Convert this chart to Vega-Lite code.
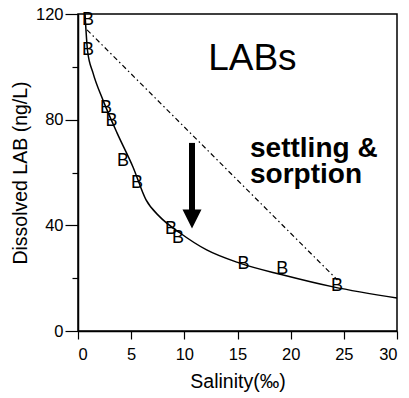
{
  "$schema": "https://vega.github.io/schema/vega-lite/v6.json",
  "width": 319,
  "height": 317,
  "autosize": "none",
  "padding": {"left": 78, "top": 14, "right": 12, "bottom": 67},
  "config": {
    "font": "Liberation Sans",
    "view": {"stroke": "black", "strokeWidth": 1.5},
    "axis": {"grid": false, "domainColor": "black", "domainWidth": 1.5, "tickColor": "black", "tickWidth": 1.2, "labelColor": "black", "titleColor": "black", "labelFont": "Liberation Sans", "titleFont": "Liberation Sans", "labelFontSize": 16.5, "titleFontSize": 19.5, "titleFontWeight": "normal"}
  },
  "datasets": {
    "samples": [
      {"salinity": 0.94, "lab": 117.7},
      {"salinity": 0.94, "lab": 106.4},
      {"salinity": 2.63, "lab": 84.4},
      {"salinity": 3.15, "lab": 79.5},
      {"salinity": 4.23, "lab": 64.4},
      {"salinity": 5.55, "lab": 56.0},
      {"salinity": 8.75, "lab": 38.6},
      {"salinity": 9.4, "lab": 35.2},
      {"salinity": 15.56, "lab": 25.4},
      {"salinity": 19.2, "lab": 23.3},
      {"salinity": 24.36, "lab": 17.2}
    ],
    "fit": [
      {"salinity": 0.66, "lab": 120},
      {"salinity": 0.75, "lab": 113.9},
      {"salinity": 0.9, "lab": 106},
      {"salinity": 1.41, "lab": 97.7},
      {"salinity": 2.35, "lab": 87.4},
      {"salinity": 3.67, "lab": 75.0},
      {"salinity": 5.17, "lab": 62.1},
      {"salinity": 6.4, "lab": 49.6},
      {"salinity": 7.7, "lab": 43.2},
      {"salinity": 9.6, "lab": 37.1},
      {"salinity": 12.1, "lab": 30.7},
      {"salinity": 15.2, "lab": 25.7},
      {"salinity": 19.3, "lab": 21.2},
      {"salinity": 24.0, "lab": 16.7},
      {"salinity": 30, "lab": 12.5}
    ],
    "mixing": [
      {"salinity": 0.85, "lab": 114},
      {"salinity": 24.4, "lab": 19.3}
    ],
    "arrow": [
      {"salinity": 10.72, "top": 71.2, "bottom": 44}
    ],
    "head": [
      {"salinity": 10.72, "lab": 42.4}
    ],
    "labels": [
      {"salinity": 16.4, "lab": 98.8, "text": "LABs", "kind": "title"},
      {"salinity": 16.18, "lab": 65.9, "text": "settling &", "kind": "note"},
      {"salinity": 16.18, "lab": 56.0, "text": "sorption", "kind": "note"}
    ]
  },
  "layer": [
    {
      "data": {"name": "fit"},
      "mark": {"type": "line", "color": "black", "strokeWidth": 1.5, "interpolate": "monotone", "clip": true},
      "encoding": {
        "x": {"field": "salinity", "type": "quantitative", "scale": {"domain": [0, 30], "nice": false}, "axis": {"title": "Salinity(‰)", "values": [0, 5, 10, 15, 20, 25, 30], "tickSize": 8, "labelPadding": 7, "titlePadding": 10}},
        "y": {"field": "lab", "type": "quantitative", "scale": {"domain": [0, 120], "nice": false}, "axis": {"title": "Dissolved LAB (ng/L)", "values": [0, 10, 20, 30, 40, 50, 60, 70, 80, 90, 100, 110, 120], "labelExpr": "datum.value % 40 == 0 ? datum.label : ''", "tickSize": {"condition": {"test": "datum.value % 40 == 0", "value": 13}, "value": 6}, "labelPadding": 2, "titlePadding": 5}}
      }
    },
    {
      "data": {"name": "mixing"},
      "mark": {"type": "line", "color": "black", "strokeWidth": 1.2, "strokeDash": [5, 3, 1.5, 3]},
      "encoding": {
        "x": {"field": "salinity", "type": "quantitative"},
        "y": {"field": "lab", "type": "quantitative"}
      }
    },
    {
      "data": {"name": "samples"},
      "mark": {"type": "text", "text": "B", "fontSize": 18, "font": "Liberation Sans", "color": "black", "align": "center", "baseline": "middle"},
      "encoding": {
        "x": {"field": "salinity", "type": "quantitative"},
        "y": {"field": "lab", "type": "quantitative"}
      }
    },
    {
      "data": {"name": "arrow"},
      "mark": {"type": "rule", "color": "black", "strokeWidth": 6},
      "encoding": {
        "x": {"field": "salinity", "type": "quantitative"},
        "y": {"field": "top", "type": "quantitative"},
        "y2": {"field": "bottom"}
      }
    },
    {
      "data": {"name": "head"},
      "mark": {"type": "point", "shape": "M-1,-1L1,-1L0,1Z", "size": 361, "filled": true, "color": "black", "opacity": 1, "strokeWidth": 0},
      "encoding": {
        "x": {"field": "salinity", "type": "quantitative"},
        "y": {"field": "lab", "type": "quantitative"}
      }
    },
    {
      "data": {"name": "labels"},
      "transform": [{"filter": "datum.kind == 'title'"}],
      "mark": {"type": "text", "fontSize": 37, "font": "Liberation Sans", "color": "black", "align": "center", "baseline": "alphabetic"},
      "encoding": {
        "x": {"field": "salinity", "type": "quantitative"},
        "y": {"field": "lab", "type": "quantitative"},
        "text": {"field": "text"}
      }
    },
    {
      "data": {"name": "labels"},
      "transform": [{"filter": "datum.kind == 'note'"}],
      "mark": {"type": "text", "fontSize": 28, "fontWeight": "bold", "font": "Liberation Sans", "color": "black", "align": "left", "baseline": "alphabetic"},
      "encoding": {
        "x": {"field": "salinity", "type": "quantitative"},
        "y": {"field": "lab", "type": "quantitative"},
        "text": {"field": "text"}
      }
    }
  ]
}
